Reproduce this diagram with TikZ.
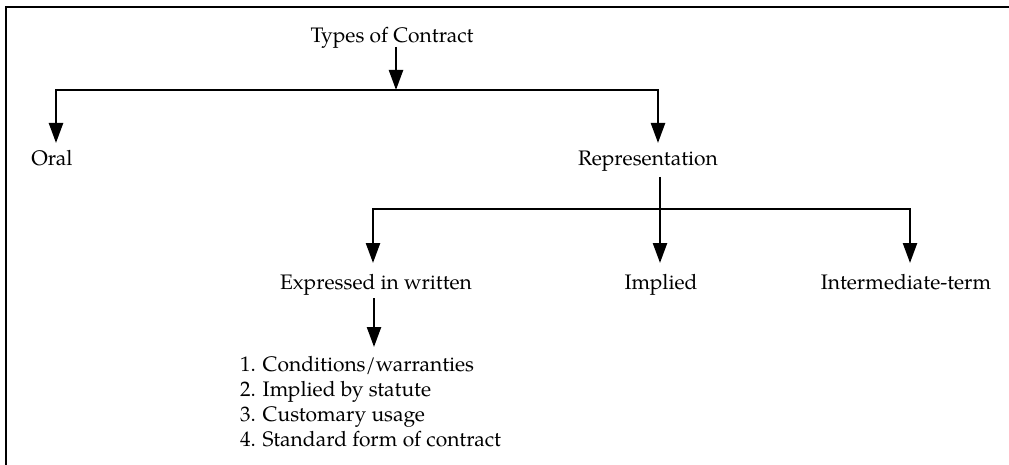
\documentclass[tikz,border=0pt]{standalone}
\usepackage{fontspec}
\setmainfont{TeX Gyre Pagella}
\usetikzlibrary{arrows.meta}
\begin{document}
\begin{tikzpicture}[x=1pt,y=-1pt,
  lbl/.style={inner sep=0pt,outer sep=0pt,text height=14pt,text depth=4pt,anchor=base,font=\fontsize{21}{25}\selectfont},
  conn/.style={line width=2.4pt},
  arr/.style={conn,-{Triangle[length=20pt,width=14pt]}},
  frame/.style={line width=2.4pt}]
\useasboundingbox (0,0) rectangle (1009,465);
\draw[frame] (6,470) -- (6,7) -- (1012,7);
% nodes
\node[lbl] (types) at (392,43) {Types of Contract};
\node[lbl] (oral) at (52,166) {Oral};
\node[lbl] (rep) at (648,166) {Representation};
\node[lbl] (expr) at (376,289) {Expressed in written};
\node[lbl] (impl) at (661,289) {Implied};
\node[lbl] (inter) at (906,289) {Intermediate-term};
\node[inner sep=0pt,outer sep=0pt,anchor=north west,align=left,font=\fontsize{21}{25}\selectfont] (list) at (240,356)
  {1. Conditions/warranties\\2. Implied by statute\\3. Customary usage\\4. Standard form of contract};
% junctions
\coordinate (j1) at (396,90);
\coordinate (j2) at (660,209);
% connectors
\draw[arr] ([xshift=4pt]types.south) -- (j1);
\draw[conn] ([xshift=4pt]oral.north |- j1) -- ([xshift=10pt]rep.north |- j1);
\draw[arr,shorten >=9pt] (j1) -| ([xshift=4pt]oral.north);
\draw[arr,shorten >=9pt] (j1) -| ([xshift=10pt]rep.north);
\draw[conn,shorten <=7pt] ([xshift=12pt]rep.south) -- (j2);
\draw[conn] ([xshift=-3pt]expr.north |- j2) -- ([xshift=4pt]inter.north |- j2);
\draw[arr,shorten >=12pt] (j2) -| ([xshift=-3pt]expr.north);
\draw[arr,shorten >=12pt] (j2) -- (j2 |- impl.north);
\draw[arr,shorten >=12pt] (j2) -| ([xshift=4pt]inter.north);
\draw[arr,shorten <=5pt,shorten >=9pt] ([xshift=-2pt]expr.south) -- ([xshift=-2pt]expr.south |- list.north);
\end{tikzpicture}
\end{document}
